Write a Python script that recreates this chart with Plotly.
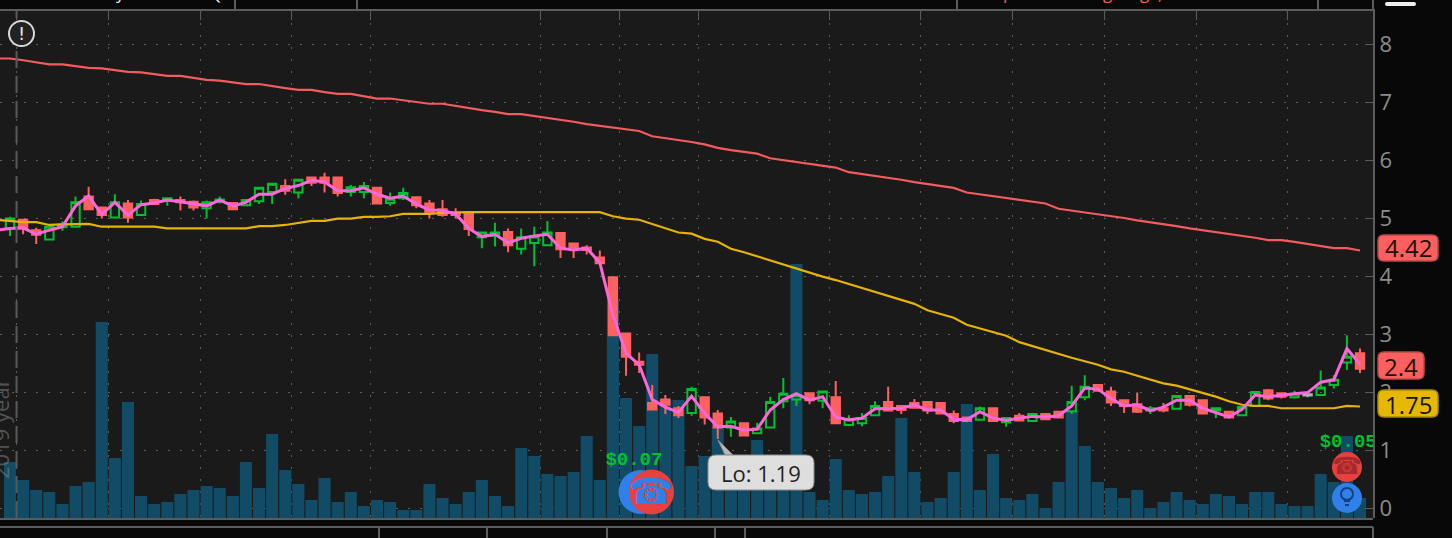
import plotly.graph_objects as go

# values, one entry per daily bar
bar_index = list(range(104))
line_index = list(range(-1, 104))  # the averages start just off the left edge

volume = [56, 38, 28, 26, 14, 32, 36, 196, 60, 116, 22, 14, 16, 24, 28, 32, 30, 22, 56, 30,
          84, 48, 34, 18, 40, 16, 26, 12, 18, 16, 8, 8, 34, 20, 14, 26, 38, 22, 12, 70,
          62, 44, 42, 46, 82, 38, 218, 120, 92, 164, 118, 118, 52, 62, 92, 50, 50, 78, 50, 50,
          254, 26, 18, 59, 28, 24, 26, 42, 100, 46, 16, 20, 46, 114, 28, 64, 20, 18, 24, 10,
          36, 107, 72, 36, 30, 20, 28, 10, 16, 26, 18, 14, 24, 22, 14, 26, 26, 14, 12, 12,
          44, 36, 82, 20]

open_ = [4.82, 4.97, 4.79, 4.63, 4.84, 4.85, 5.37, 5.18, 5.01, 5.25,
         5.05, 5.31, 5.30, 5.31, 5.28, 5.17, 5.28, 5.26, 5.22, 5.29,
         5.45, 5.55, 5.44, 5.70, 5.70, 5.70, 5.45, 5.45, 5.52, 5.26,
         5.34, 5.36, 5.25, 5.15, 5.09, 5.10, 4.67, 4.69, 4.76, 4.47,
         4.57, 4.53, 4.74, 4.56, 4.49, 4.32, 3.98, 3.01, 2.52, 1.81,
         1.87, 1.72, 1.64, 1.91, 1.63, 1.39, 1.46, 1.29, 1.39, 1.84,
         1.87, 1.98, 1.85, 1.91, 1.43, 1.46, 1.60, 1.83, 1.76, 1.81,
         1.83, 1.81, 1.62, 1.56, 1.52, 1.72, 1.48, 1.59, 1.50, 1.62,
         1.66, 1.67, 1.91, 2.12, 2.01, 1.86, 1.79, 1.68, 1.72, 1.71,
         1.93, 1.86, 1.68, 1.66, 1.60, 1.76, 2.03, 1.98, 1.91, None,
         1.95, 2.12, 2.51, 2.67]
high = [5.02, 4.98, 4.83, 4.87, 4.94, 5.37, 5.54, 5.18, 5.41, 5.31,
        5.30, 5.33, 5.34, 5.37, 5.30, 5.30, 5.37, 5.27, 5.32, 5.54,
        5.61, 5.67, 5.67, 5.71, 5.78, 5.70, 5.57, 5.62, 5.53, 5.44,
        5.52, 5.36, 5.31, 5.31, 5.17, 5.10, 4.75, 4.92, 4.82, 4.82,
        4.85, 4.95, 4.74, 4.56, 4.53, 4.44, 3.99, 3.01, 2.68, 2.12,
        1.95, 1.76, 2.09, 1.91, 1.69, 1.57, 1.47, 1.47, 1.92, 2.24,
        1.98, 1.98, 2.02, 2.19, 1.60, 1.64, 1.84, 2.09, 1.76, 1.88,
        1.83, 1.82, 1.68, 1.56, 1.75, 1.72, 1.56, 1.64, 1.62, 1.64,
        1.67, 2.11, 2.29, 2.12, 2.09, 1.86, 1.99, 1.76, 1.81, 1.93,
        1.95, 1.86, 1.72, 1.66, 1.74, 2.00, 2.05, 1.99, 2.02, None,
        2.37, 2.29, 2.98, 2.75]
low = [4.69, 4.72, 4.55, 4.62, 4.78, 4.84, 5.14, 4.99, 5.01, 4.92,
       5.05, 5.24, 5.21, 5.13, 5.13, 4.99, 5.25, 5.15, 5.21, 5.24,
       5.24, 5.40, 5.34, 5.55, 5.44, 5.37, 5.37, 5.34, 5.25, 5.21,
       5.31, 5.17, 4.99, 5.02, 4.99, 4.69, 4.48, 4.51, 4.41, 4.37,
       4.17, 4.52, 4.31, 4.31, 4.37, 4.21, 2.98, 2.28, 2.33, 1.68,
       1.62, 1.55, 1.59, 1.44, 1.19, 1.23, 1.24, 1.28, 1.37, 1.72,
       1.76, 1.79, 1.72, 1.45, 1.43, 1.41, 1.59, 1.68, 1.62, 1.72,
       1.62, 1.62, 1.46, 1.48, 1.51, 1.49, 1.40, 1.49, 1.49, 1.52,
       1.55, 1.62, 1.86, 2.01, 1.76, 1.64, 1.64, 1.62, 1.65, 1.71,
       1.75, 1.62, 1.55, 1.55, 1.60, 1.75, 1.86, 1.89, 1.89, None,
       1.95, 2.06, 2.38, 2.33]
close = [4.99, 4.82, 4.71, 4.85, 4.89, 5.27, 5.15, 5.05, 5.27, 5.01,
         5.24, 5.24, 5.34, 5.27, 5.18, 5.27, 5.32, 5.15, 5.31, 5.52,
         5.59, 5.47, 5.66, 5.61, 5.61, 5.43, 5.53, 5.55, 5.25, 5.33,
         5.43, 5.22, 5.08, 5.05, 5.05, 4.81, 4.75, 4.75, 4.53, 4.67,
         4.68, 4.75, 4.46, 4.49, 4.45, 4.22, 2.98, 2.61, 2.47, 1.70,
         1.78, 1.60, 2.05, 1.56, 1.39, 1.49, 1.25, 1.37, 1.83, 1.97,
         1.95, 1.86, 2.01, 1.46, 1.53, 1.55, 1.76, 1.68, 1.69, 1.73,
         1.68, 1.63, 1.50, 1.50, 1.72, 1.50, 1.55, 1.51, 1.62, 1.53,
         1.56, 1.83, 2.09, 2.02, 1.82, 1.76, 1.66, 1.72, 1.68, 1.93,
         1.78, 1.63, 1.72, 1.56, 1.74, 2.00, 1.89, 1.92, 1.97, None,
         2.08, 2.21, 2.61, 2.40]

# the one grey doji near the end
doji_open = [None] * 99 + [1.94] + [None] * 4
doji_high = [None] * 99 + [2.00] + [None] * 4
doji_low = [None] * 99 + [1.91] + [None] * 4
doji_close = [None] * 99 + [1.96] + [None] * 4

ma_fast = [4.79, 4.82, 4.83, 4.72, 4.79, 4.85, 5.21, 5.38, 5.06, 5.27, 5.05,
           5.23, 5.26, 5.31, 5.28, 5.24, 5.21, 5.31, 5.21, 5.27, 5.41,
           5.41, 5.51, 5.56, 5.65, 5.62, 5.47, 5.47, 5.52, 5.41, 5.34,
           5.38, 5.24, 5.14, 5.13, 5.07, 4.82, 4.68, 4.72, 4.57, 4.65,
           4.69, 4.72, 4.48, 4.45, 4.48, 4.23, 3.33, 2.67, 2.47, 1.87,
           1.74, 1.65, 1.93, 1.63, 1.40, 1.41, 1.34, 1.36, 1.69, 1.87,
           1.97, 1.86, 1.92, 1.57, 1.52, 1.55, 1.71, 1.72, 1.72, 1.78,
           1.69, 1.69, 1.53, 1.52, 1.66, 1.55, 1.51, 1.55, 1.58, 1.57,
           1.59, 1.76, 2.07, 2.05, 1.89, 1.76, 1.78, 1.68, 1.74, 1.86,
           1.86, 1.72, 1.65, 1.57, 1.70, 1.95, 1.92, 1.95, 1.97, 1.99,
           2.17, 2.21, 2.75, 2.48]
ma_mid = [4.97, 4.95, 4.93, 4.93, 4.88, 4.89, 4.90, 4.90, 4.85, 4.85, 4.85,
          4.85, 4.85, 4.82, 4.82, 4.82, 4.82, 4.82, 4.82, 4.82, 4.86,
          4.86, 4.88, 4.92, 4.95, 4.95, 4.99, 4.99, 5.02, 5.02, 5.03,
          5.07, 5.07, 5.07, 5.09, 5.10, 5.10, 5.10, 5.10, 5.10, 5.10,
          5.10, 5.10, 5.10, 5.10, 5.10, 5.10, 5.03, 4.99, 4.97, 4.90,
          4.83, 4.75, 4.73, 4.64, 4.59, 4.47, 4.41, 4.34, 4.26, 4.20,
          4.12, 4.06, 3.99, 3.93, 3.86, 3.79, 3.73, 3.65, 3.59, 3.52,
          3.41, 3.34, 3.28, 3.16, 3.10, 3.03, 2.97, 2.86, 2.79, 2.72,
          2.66, 2.59, 2.53, 2.47, 2.39, 2.35, 2.28, 2.21, 2.15, 2.11,
          2.05, 1.98, 1.92, 1.84, 1.78, 1.76, 1.76, 1.72, 1.72, 1.72,
          1.72, 1.72, 1.76, 1.75]
ma_slow = [7.75, 7.75, 7.72, 7.68, 7.65, 7.65, 7.62, 7.59, 7.58, 7.55, 7.52,
           7.51, 7.48, 7.45, 7.45, 7.41, 7.38, 7.37, 7.34, 7.31, 7.31,
           7.27, 7.24, 7.21, 7.21, 7.17, 7.14, 7.14, 7.10, 7.06, 7.06,
           7.03, 7.00, 6.97, 6.97, 6.93, 6.90, 6.86, 6.83, 6.79, 6.79,
           6.76, 6.73, 6.69, 6.66, 6.62, 6.59, 6.56, 6.53, 6.50, 6.41,
           6.38, 6.35, 6.31, 6.27, 6.21, 6.17, 6.14, 6.11, 6.03, 6.00,
           5.97, 5.93, 5.90, 5.87, 5.79, 5.76, 5.72, 5.69, 5.66, 5.62,
           5.59, 5.55, 5.52, 5.44, 5.41, 5.38, 5.35, 5.31, 5.28, 5.25,
           5.16, 5.13, 5.10, 5.06, 5.03, 5.00, 4.96, 4.93, 4.89, 4.86,
           4.82, 4.79, 4.76, 4.72, 4.69, 4.66, 4.62, 4.62, 4.59, 4.55,
           4.52, 4.48, 4.48, 4.44]

grid_breaks = [0.5, 7.5, 14.5, 21.5, 27.5, 40.5, 46.5, 52.5, 62.5, 69.5, 76.5, 83.5, 90.5, 97.5]
price_ticks = [0, 1, 2, 3, 4, 5, 6, 7, 8]

earnings_x = [47.6, 102.1]
earnings_y = [0.83, 1.14]
earnings_text = ["$0.07", "$0.05"]

PLOT_W = 1373
PLOT_H = 507
PLOT_TOP = 11


def xp(px):
    return px / PLOT_W


def yp(py):
    return 1 - (py - PLOT_TOP) / PLOT_H


def rounded(x0, y0, x1, y1, r):
    # rounded box in screen pixels, handed to plotly as paper coords
    return (f"M{xp(x0 + r)},{yp(y0)} L{xp(x1 - r)},{yp(y0)} Q{xp(x1)},{yp(y0)} {xp(x1)},{yp(y0 + r)} "
            f"L{xp(x1)},{yp(y1 - r)} Q{xp(x1)},{yp(y1)} {xp(x1 - r)},{yp(y1)} "
            f"L{xp(x0 + r)},{yp(y1)} Q{xp(x0)},{yp(y1)} {xp(x0)},{yp(y1 - r)} "
            f"L{xp(x0)},{yp(y0 + r)} Q{xp(x0)},{yp(y0)} {xp(x0 + r)},{yp(y0)} Z")


def circle(cx, cy, r, fill, line=None, width=0):
    return dict(type="circle", xref="paper", yref="paper",
                x0=xp(cx - r), x1=xp(cx + r), y0=yp(cy + r), y1=yp(cy - r),
                fillcolor=fill, line=dict(color=line or fill, width=width))


def frame_line(x0, y0, x1, y1, color="#5c5c5c", width=2):
    return dict(type="line", xref="paper", yref="paper", x0=xp(x0), x1=xp(x1), y0=yp(y0), y1=yp(y1),
                line=dict(color=color, width=width))


def label(text, x, y, size=22, color="#1a1200", family="Open Sans"):
    return dict(text=text, xref="paper", yref="paper", x=xp(x), y=yp(y), showarrow=False,
                xanchor="center", yanchor="middle", font=dict(size=size, color=color, family=family))


fig = go.Figure()

fig.add_trace(go.Bar(x=bar_index, y=volume, yaxis="y", width=0.92,
                     marker=dict(color="#124b66", line=dict(width=0))))

fig.add_trace(go.Scatter(x=line_index, y=ma_slow, yaxis="y2", mode="lines",
                         line=dict(color="#f45b5f", width=2.2)))
fig.add_trace(go.Scatter(x=line_index, y=ma_mid, yaxis="y2", mode="lines",
                         line=dict(color="#e6b400", width=2.2)))

fig.add_trace(go.Candlestick(x=bar_index, open=open_, high=high, low=low, close=close, yaxis="y2",
                             whiskerwidth=0,
                             increasing=dict(line=dict(color="#00c030", width=2), fillcolor="rgba(0,0,0,0)"),
                             decreasing=dict(line=dict(color="#ff6060", width=2), fillcolor="#ff6060")))
fig.add_trace(go.Candlestick(x=bar_index, open=doji_open, high=doji_high, low=doji_low, close=doji_close,
                             yaxis="y2", whiskerwidth=0,
                             increasing=dict(line=dict(color="#b0b0b0", width=2), fillcolor="#b0b0b0"),
                             decreasing=dict(line=dict(color="#b0b0b0", width=2), fillcolor="#b0b0b0")))

fig.add_trace(go.Scatter(x=line_index, y=ma_fast, yaxis="y2", mode="lines",
                         line=dict(color="#ff66d9", width=3)))

# earnings labels, scatter text so the right one gets clipped by the plot edge
fig.add_trace(go.Scatter(x=earnings_x, y=earnings_y, yaxis="y2", mode="text", text=earnings_text,
                         textfont=dict(family="Liberation Mono", size=19, color="#00c030", weight="bold")))

shapes = [
    # year separator
    dict(type="line", xref="x", yref="paper", x0=grid_breaks[0], x1=grid_breaks[0], y0=0, y1=1,
         line=dict(color="#5a5a5a", width=2, dash="17px,8px")),
    # strip lines around the plot
    frame_line(0, 519, PLOT_W, 519),
    frame_line(0, 527, PLOT_W, 527),
    frame_line(1373, 527, 1373, 538),
    frame_line(1373, 0, 1373, 11),
]
for px in [379, 487, 607, 715, 745]:
    shapes.append(frame_line(px, 528, px, 538))
for px in [235, 357, 957, 1318]:
    shapes.append(frame_line(px, 0, px, 10))

# grab bar top right
shapes.append(dict(type="path", xref="paper", yref="paper", path=rounded(1385, 2, 1416, 6, 2),
                   fillcolor="#eeeeee", line=dict(width=0)))

# warning icon
shapes.append(circle(21.5, 33.5, 12.5, "#222222", "#d8d8d8", 2))

# low tooltip with its tail
shapes.append(dict(type="path", xref="paper", yref="paper",
                   path=f"M{xp(718)},{yp(440)} L{xp(733)},{yp(455)} L{xp(725)},{yp(455)} Z",
                   fillcolor="#b8b8b8", line=dict(color="#8a8a8a", width=1)))
shapes.append(dict(type="path", xref="paper", yref="paper", path=rounded(708, 455, 814, 490, 8),
                   fillcolor="#dedede", line=dict(color="#8f8f8f", width=1)))

# value badges on the price scale
for x1, y0, y1, fill, edge in [(1438, 235, 261, "#ff5f5f", "#b84a4a"),
                               (1424, 352, 379, "#ff5f5f", "#b84a4a"),
                               (1438, 390, 417, "#e6b800", "#a88a00")]:
    shapes.append(dict(type="path", xref="paper", yref="paper", path=rounded(1378, y0, x1, y1, 6),
                       fillcolor=fill, line=dict(color=edge, width=1.5)))

# event icons
shapes.append(circle(640.5, 492, 22, "#2f80e8"))
shapes.append(circle(651.5, 492, 22.5, "#e8403f"))
shapes.append(circle(1347, 467, 15, "#e8403f"))
shapes.append(circle(1347, 498, 15, "#2f80e8"))
shapes.append(circle(1347, 494, 6, "rgba(0,0,0,0)", "#123f80", 2))
shapes.append(frame_line(1344, 501, 1350, 501, "#123f80", 2))
shapes.append(frame_line(1345, 505, 1349, 505, "#123f80", 2))

annotations = [
    label("2019 year", 0, 429, size=22, color="rgba(140,140,140,0.5)"),
    label("!", 21.5, 33, size=18, color="#e8e8e8", family="DejaVu Sans"),
    label("Lo: 1.19", 761, 473, size=22, color="#222222"),
    label("4.42", 1408, 248, size=24),
    label("2.4", 1401, 366, size=24),
    label("1.75", 1408, 404, size=24),
    label("☎", 651.5, 491, size=36, color="#2f80e8", family="DejaVu Sans"),
    label("☎", 1347, 466, size=24, color="#a52a2a", family="DejaVu Sans"),
    # header text cut off by the top edge, only the descenders show
    label("y", 120, -8, size=17, color="#f0f0f0"),
    label("Q", 215, -7, size=17, color="#f0f0f0"),
    label("p", 1008, -8, size=17, color="#ff5a5a"),
    label("g", 1107, -8, size=17, color="#ff5a5a"),
    label("g", 1144, -8, size=17, color="#ff5a5a"),
    label(",", 1160, -7, size=17, color="#ff5a5a"),
]
annotations[0]["textangle"] = -90

fig.update_layout(
    width=1452, height=538, autosize=False,
    margin=dict(l=0, r=1452 - PLOT_W, t=PLOT_TOP, b=538 - PLOT_TOP - PLOT_H, pad=0),
    paper_bgcolor="#080808", plot_bgcolor="#1a1a1a",
    showlegend=False, hovermode=False, boxgap=0.36, boxgroupgap=0,
    shapes=shapes, annotations=annotations,
    xaxis=dict(range=[-0.763, 103.99], side="top", showticklabels=False, tickvals=grid_breaks,
               ticks="inside", ticklen=9, tickwidth=1, tickcolor="#5c5c5c",
               showline=True, linewidth=2, linecolor="#5c5c5c",
               showgrid=True, gridcolor="#5c5c5c", gridwidth=1, griddash="2px,10px", zeroline=False,
               rangeslider=dict(visible=False)),
    yaxis=dict(range=[0, PLOT_H], visible=False, showgrid=False, zeroline=False),
    yaxis2=dict(range=[-0.172, 8.569], overlaying="y", side="right", tickvals=price_ticks,
                ticks="inside", ticklen=8, tickwidth=1, tickcolor="#5c5c5c",
                tickfont=dict(family="Open Sans", size=22, color="#8c8c8c"),
                showline=True, linewidth=2, linecolor="#5c5c5c",
                showgrid=True, gridcolor="#5c5c5c", gridwidth=1, griddash="2px,10px", zeroline=False),
)

# page default margin would push the chart 8px in
fig.write_html("out.html", config={"displayModeBar": False},
               post_script="document.body.style.margin='0';")
